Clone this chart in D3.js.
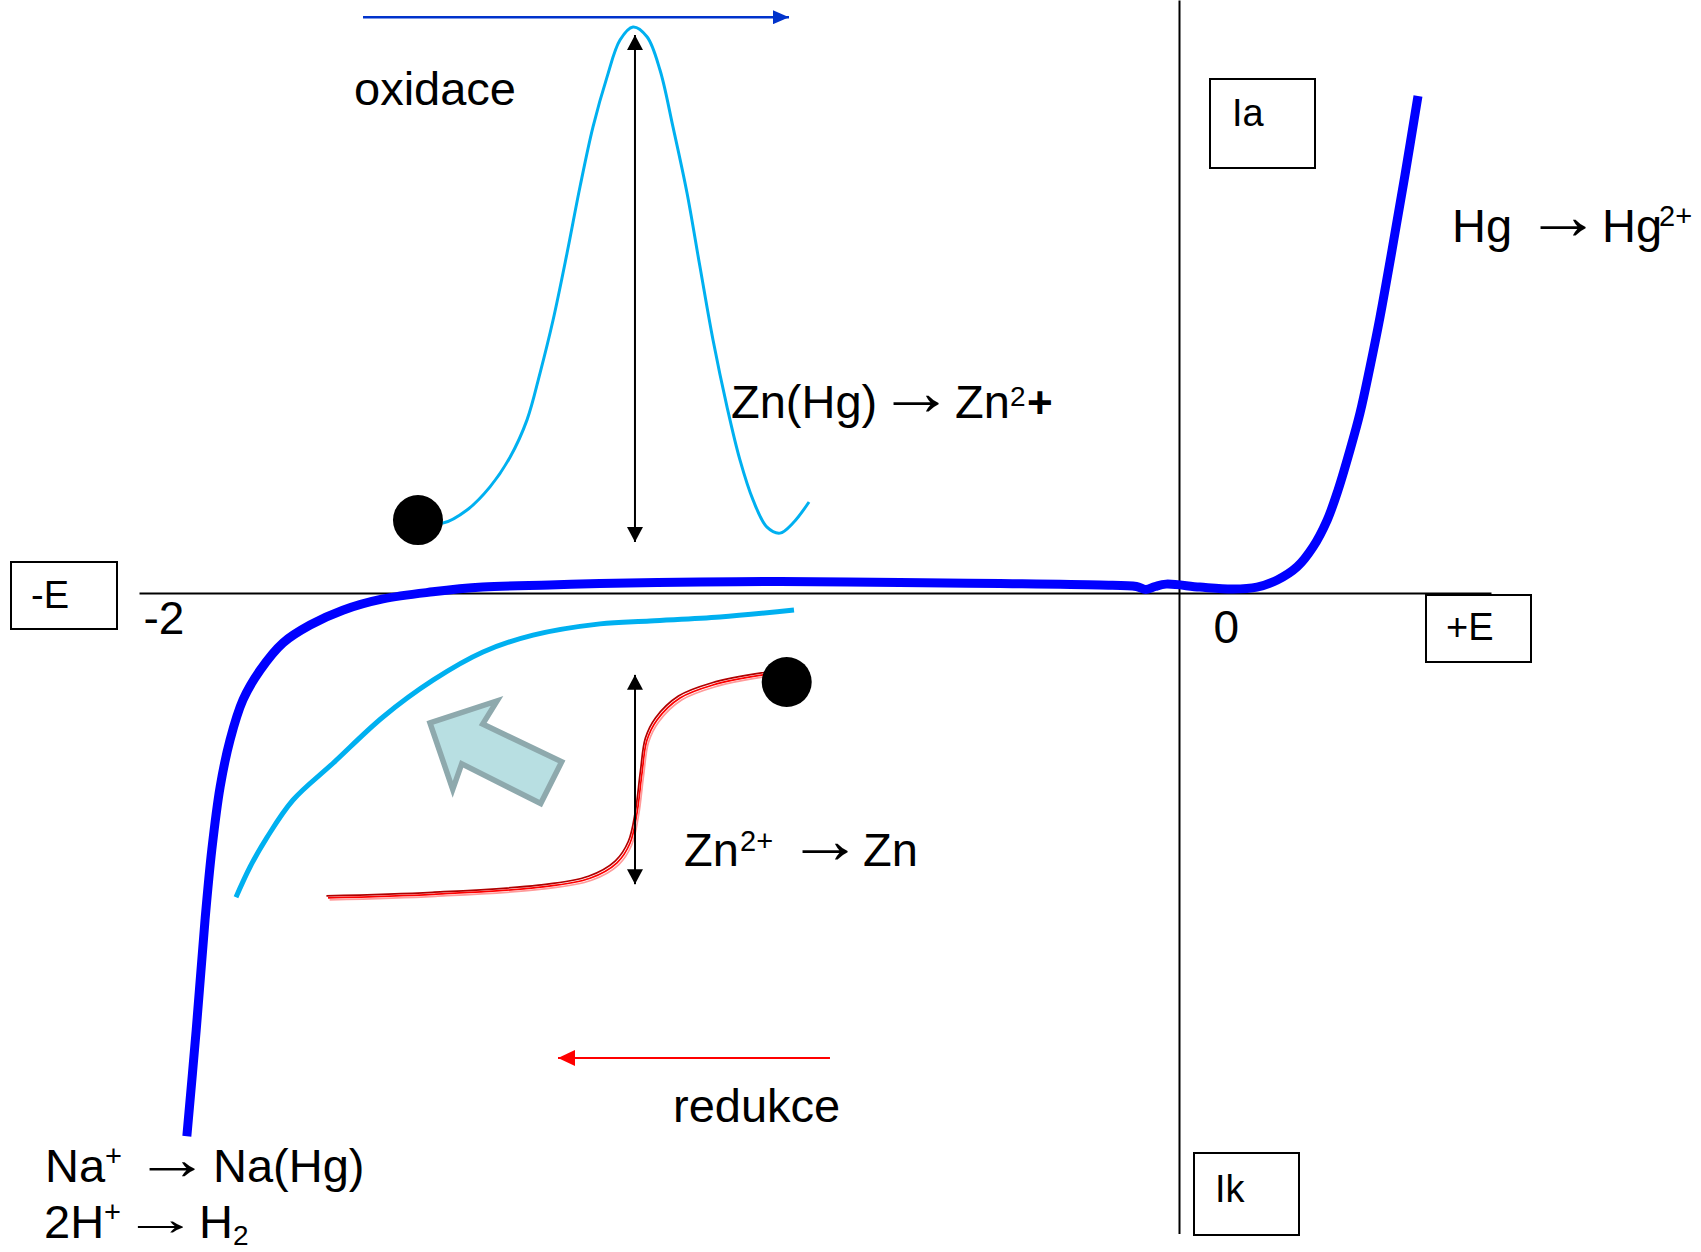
<!DOCTYPE html>
<html>
<head>
<meta charset="utf-8">
<script src="https://cdn.jsdelivr.net/npm/d3@7"></script>
<style>
  html, body { margin: 0; padding: 0; background: #ffffff; }
  svg { display: block; }
  text { font-family: "Liberation Sans", Arial, sans-serif; fill: #000; }
</style>
</head>
<body>
<svg id="chart" width="1701" height="1252"></svg>
<script>
// ---------------- data (E in V, I in arbitrary units) ----------------
const potentialTicks = [-2, 0];

// thick dark-blue background curve of the mercury electrode
const mercuryCurve = [
  [-1.908,-91.6],[-1.890,-73.7],[-1.873,-55.1],[-1.860,-43.3],[-1.844,-32.7],[-1.825,-24.8],
  [-1.800,-18.0],[-1.767,-13.0],[-1.723,-8.4],[-1.671,-5.4],[-1.608,-2.9],[-1.531,-1.0],
  [-1.435,0.2],[-1.339,1.0],[-1.210,1.35],[-1.114,1.6],[-0.921,1.85],[-0.767,1.95],
  [-0.537,1.77],[-0.344,1.6],[-0.152,1.35],[-0.082,1.1],[-0.064,0.6],[-0.046,1.1],
  [-0.025,1.5],[0.040,1.0],[0.104,0.67],[0.150,1.0],[0.189,2.2],[0.227,4.4],[0.258,7.8],
  [0.285,12.3],[0.306,17.4],[0.3288,24.1],[0.3481,30.35],[0.3673,38.1],[0.3865,46.5],
  [0.4096,57.8],[0.4346,70.5],[0.4596,83.8]
];

// light-blue anodic peak Zn(Hg) -> Zn2+
const oxidationPeak = [
  [-1.4635,12.3],[-1.4154,11.8],[-1.3692,14.0],[-1.325,17.9],[-1.2865,22.9],[-1.2538,29.2],
  [-1.2288,37.1],[-1.2038,46.0],[-1.1769,57.3],[-1.1519,68.5],[-1.1269,78.6],[-1.100,87.0],
  [-1.075,93.25],[-1.050,95.45],[-1.0231,93.8],[-0.9981,88.2],[-0.9731,78.6],[-0.9462,67.5],
  [-0.9212,55.0],[-0.8962,42.7],[-0.8692,31.4],[-0.8442,22.4],[-0.8192,15.7],[-0.7923,11.1],
  [-0.7673,10.1],[-0.7423,11.8],[-0.7115,15.35]
];

// light-blue cathodic background curve
const reductionBackground = [
  [-1.8135,-51.3],[-1.7865,-46.2],[-1.7538,-41.2],[-1.7038,-34.9],[-1.6269,-28.7],
  [-1.5308,-20.9],[-1.4346,-14.7],[-1.3385,-9.95],[-1.2423,-7.1],[-1.1135,-5.2],
  [-1.0173,-4.7],[-0.8827,-4.05],[-0.7404,-2.87]
];

// red polarographic wave Zn2+ -> Zn
const zincWave = [
  [-1.6365,-51.4],[-1.4327,-50.8],[-1.2288,-49.6],[-1.1327,-48.1],[-1.0808,-45.5],
  [-1.0558,-42.2],[-1.0423,-37.1],[-1.0327,-30.4],[-1.0231,-24.8],[-1.0038,-21.4],
  [-0.9596,-17.7],[-0.8962,-15.5],[-0.800,-13.8],[-0.7673,-13.5]
];

const startPoints = [[-1.4635, 12.3], [-0.7544, -15.0]];

const oxidationDirection = [[-1.5692, 97.1], [-0.750, 97.1]];
const reductionDirection = [[-0.6712, -78.4], [-1.1942, -78.4]];
const peakHeight = [[-1.0462, 8.6], [-1.0462, 94.1]];
const waveHeight = [[-1.0462, -13.8], [-1.0462, -49.1]];

const shiftArrow = [
  [-1.4404,-21.9],[-1.3115,-18.2],[-1.3390,-22.1],[-1.1871,-28.45],
  [-1.2275,-35.5],[-1.3794,-28.8],[-1.3967,-33.1]
];

const axisLabels = ["-E", "+E", "Ia", "Ik"];
const directionLabels = ["oxidace", "redukce"];

// ---------------- drawing ----------------
const svg = d3.select("#chart");
svg.append("rect").attr("width", 1701).attr("height", 1252).attr("fill", "#fff");

const x = d3.scaleLinear().domain([-2, 0.6]).range([139, 1491]);
const y = d3.scaleLinear().domain([100, -108]).range([0, 1233.5]);

const defs = svg.append("defs");
function marker(id, color, len, half) {
  defs.append("marker")
    .attr("id", id)
    .attr("markerUnits", "userSpaceOnUse")
    .attr("viewBox", `0 0 ${len} ${half * 2}`)
    .attr("refX", len).attr("refY", half)
    .attr("markerWidth", len).attr("markerHeight", half * 2)
    .attr("orient", "auto-start-reverse")
    .append("path")
    .attr("d", `M0,0L${len},${half}L0,${half * 2}Z`)
    .attr("fill", color);
}
marker("ah-blue", "#0033cc", 16, 7);
marker("ah-black", "#000", 15, 8);
marker("ah-red", "#ff0000", 17, 8);

// axes
const xAxis = d3.axisBottom(x).tickValues(potentialTicks).tickSize(0).tickSizeOuter(0)
  .tickFormat(d => String(d));
const gx = svg.append("g").attr("transform", `translate(0,${y(0)})`).call(xAxis);
gx.select(".domain").attr("stroke", "#000").attr("stroke-width", 2);
gx.selectAll(".tick text")
  .attr("text-anchor", "start")
  .attr("font-family", "Liberation Sans, Arial, sans-serif")
  .attr("font-size", 46)
  .attr("fill", "#000")
  .attr("dy", null)
  .attr("x", d => d === 0 ? 34 : 4)
  .attr("y", d => d === 0 ? 50 : 41);

const yAxis = d3.axisLeft(y).tickValues([]).tickSizeOuter(0);
const gy = svg.append("g").attr("transform", `translate(${x(0)},0)`).call(yAxis);
gy.select(".domain").attr("stroke", "#000").attr("stroke-width", 2);

// label boxes
const boxes = [
  {t: axisLabels[0], bx: 11, by: 562, w: 106, h: 67, tx: 31, ty: 608},
  {t: axisLabels[1], bx: 1426, by: 595, w: 105, h: 67, tx: 1446, ty: 640},
  {t: axisLabels[2], bx: 1210, by: 79, w: 105, h: 89, tx: 1232, ty: 126},
  {t: axisLabels[3], bx: 1194, by: 1153, w: 105, h: 82, tx: 1215, ty: 1202}
];
boxes.forEach(b => {
  svg.append("rect").attr("x", b.bx).attr("y", b.by).attr("width", b.w).attr("height", b.h)
    .attr("fill", "none").attr("stroke", "#000").attr("stroke-width", 2);
  svg.append("text").attr("x", b.tx).attr("y", b.ty).attr("font-size", 38).text(b.t);
});

const line = d3.line().x(d => x(d[0])).y(d => y(d[1])).curve(d3.curveCatmullRom.alpha(0.5));
const straight = d3.line().x(d => x(d[0])).y(d => y(d[1]));

// curves
svg.append("path").attr("d", line(reductionBackground)).attr("fill", "none")
  .attr("stroke", "#00b0f0").attr("stroke-width", 5);
svg.append("path").attr("d", line(oxidationPeak)).attr("fill", "none")
  .attr("stroke", "#00b0f0").attr("stroke-width", 3);

[["#b00000", -1.6, -2.0], ["#ff0000", 0, 0], ["#ff9a9a", 1.6, 2.0]].forEach(([c, dx, dy]) => {
  svg.append("path").attr("d", line(zincWave)).attr("fill", "none")
    .attr("transform", `translate(${dx},${dy})`)
    .attr("stroke", c).attr("stroke-width", 1.7);
});

svg.append("path").attr("d", line(mercuryCurve)).attr("fill", "none")
  .attr("stroke", "#0000ff").attr("stroke-width", 9).attr("stroke-linejoin", "round");

// shift arrow
svg.append("path").attr("d", straight(shiftArrow) + "Z")
  .attr("fill", "#b8dfe2").attr("stroke", "#8ea9ad").attr("stroke-width", 5.5)
  .attr("stroke-linejoin", "miter");

// dots
svg.selectAll("circle.start").data(startPoints).join("circle")
  .attr("cx", d => x(d[0])).attr("cy", d => y(d[1])).attr("r", 25).attr("fill", "#000");

// arrows
svg.append("path").attr("d", straight(oxidationDirection)).attr("stroke", "#0033cc")
  .attr("stroke-width", 2.5).attr("fill", "none").attr("marker-end", "url(#ah-blue)");
svg.append("path").attr("d", straight(reductionDirection)).attr("stroke", "#ff0000")
  .attr("stroke-width", 2).attr("fill", "none").attr("marker-end", "url(#ah-red)");
[peakHeight, waveHeight].forEach(a => {
  svg.append("path").attr("d", straight(a)).attr("stroke", "#000").attr("stroke-width", 2)
    .attr("fill", "none").attr("marker-start", "url(#ah-black)").attr("marker-end", "url(#ah-black)");
});

// texts
function rich(segs, sy) {
  const t = svg.append("text");
  segs.forEach(s => {
    if (s.t === "→") return;
    t.append("tspan").attr("x", s.x).attr("y", s.y).attr("font-size", s.size || 47)
      .attr("font-weight", s.bold ? "bold" : null).text(s.t);
  });
  // reaction arrows: the glyph is widened to match the long thin arrow of the original
  segs.filter(s => s.t === "→").forEach(s => {
    svg.append("text").attr("transform", `translate(${s.x},${s.y - 3}) scale(1.62,${sy || 1.45})`)
      .attr("text-anchor", "middle").attr("font-size", 47).text(s.t);
  });
}
rich([{t: directionLabels[0], x: 354, y: 105}]);
rich([{t: directionLabels[1], x: 673, y: 1122}]);
rich([
  {t: "Zn(Hg)", x: 731, y: 418}, {t: "→", x: 916, y: 418}, {t: "Zn", x: 955, y: 418},
  {t: "2", x: 1010, y: 406, size: 28}, {t: "+", x: 1027, y: 418, size: 44, bold: true}
]);
rich([
  {t: "Zn", x: 684, y: 866}, {t: "2+", x: 740, y: 851, size: 29},
  {t: "→", x: 825, y: 866}, {t: "Zn", x: 863, y: 866}
]);
rich([
  {t: "Hg", x: 1452, y: 242}, {t: "→", x: 1563, y: 242}, {t: "Hg", x: 1602, y: 242},
  {t: "2+", x: 1659, y: 226, size: 29}
]);
rich([
  {t: "Na", x: 45, y: 1182}, {t: "+", x: 105, y: 1166, size: 29},
  {t: "→", x: 172, y: 1182}, {t: "Na(Hg)", x: 213, y: 1182}
], 1.25);
rich([
  {t: "2H", x: 44, y: 1238}, {t: "+", x: 104, y: 1222, size: 29},
  {t: "→", x: 160, y: 1238}, {t: "H", x: 199, y: 1238}, {t: "2", x: 233, y: 1245, size: 28}
], 1.0);
</script>
</body>
</html>
